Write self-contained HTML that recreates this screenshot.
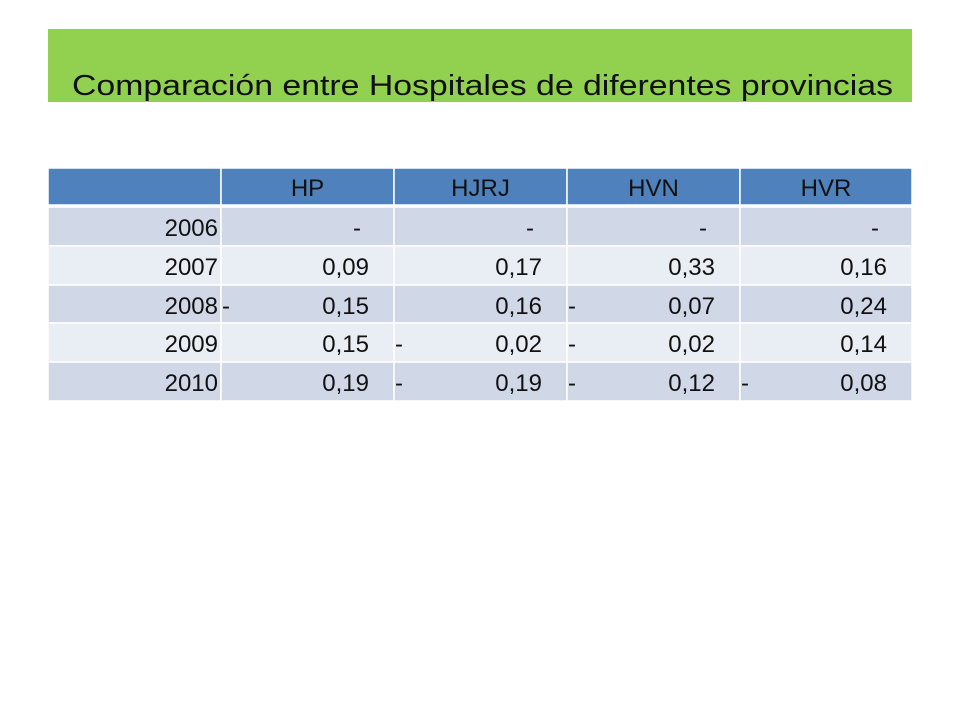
<!DOCTYPE html>
<html><head><meta charset="utf-8"><style>
body{margin:0;width:960px;height:720px;background:#fff;overflow:hidden}
svg{display:block}
text{font-family:"Liberation Sans",sans-serif}
</style></head><body>
<svg width="960" height="720">
<rect x="48" y="29" width="864" height="73" fill="#92d050"/>
<text x="72" y="95" font-size="29" fill="#111" textLength="821" lengthAdjust="spacingAndGlyphs">Comparación entre Hospitales de diferentes provincias</text>
<g id="tbl"></g>
</svg>
<script>
const headers=["HP","HJRJ","HVN","HVR"];
const years=["2006","2007","2008","2009","2010"];
const values=[
 [null,null,null,null],
 ["0,09","0,17","0,33","0,16"],
 ["-0,15","0,16","-0,07","0,24"],
 ["0,15","-0,02","-0,02","0,14"],
 ["0,19","-0,19","-0,12","-0,08"]];
const NS="http://www.w3.org/2000/svg";
const g=document.getElementById('tbl');
const cols=[48,221,394,567,740,912];
const rowsY=[168,207,246,285,323,362,401];
function rect(x,y,w,h,f){const r=document.createElementNS(NS,'rect');r.setAttribute('x',x);r.setAttribute('y',y);r.setAttribute('width',w);r.setAttribute('height',h);r.setAttribute('fill',f);r.setAttribute('stroke','#fff');r.setAttribute('stroke-width','1.5');g.appendChild(r);return r;}
function txt(x,y,s,anchor,fill){const t=document.createElementNS(NS,'text');t.setAttribute('x',x);t.setAttribute('y',y);t.setAttribute('font-size','24');t.setAttribute('fill',fill||'#111');t.setAttribute('text-anchor',anchor);t.textContent=s;g.appendChild(t);return t;}
for(let r=0;r<6;r++){
 for(let c=0;c<5;c++){
  const fill=r==0?'#4f81bd':(r%2==1?'#d0d8e8':'#e9edf4');
  const el=rect(cols[c],rowsY[r],cols[c+1]-cols[c],rowsY[r+1]-rowsY[r]-(r==0?2:0),fill);
  
  
 }
}
for(let c=0;c<4;c++){
 const t=txt((cols[c+1]+cols[c+2])/2,196,headers[c],'middle','#111');
 
 
}
for(let r=0;r<5;r++){
 const y=rowsY[r+1]+29;
 const t=txt(218,y,years[r],'end');
 
 
 for(let c=0;c<4;c++){
  const v=values[r][c];
  const right=cols[c+2]-25;
  if(v===null){const d=txt(right-8,y,'-','end');continue;}
  let s=v;
  if(s[0]=='-'){s=s.slice(1);const m=txt(cols[c+1]+1,y,'-','start');}
  const vt=txt(right,y,s,'end');
  
  
 }
}
</script>
</body></html>
